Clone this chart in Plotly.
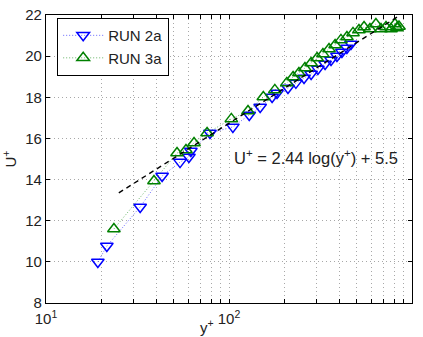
import plotly.graph_objects as go
import math

# RUN 2a
yplus_2a = [19.2, 21.5, 32.7, 43.1, 54.0, 60.4, 61.9, 78.7, 105, 129, 148, 172, 183,
            210, 232, 257, 281, 306, 335, 361, 389, 414, 441, 464]
U_2a = [9.99, 10.77, 12.67, 14.17, 14.85, 15.10, 15.39, 16.26, 16.56, 17.14, 17.53,
        18.01, 18.21, 18.45, 18.70, 18.94, 19.13, 19.38, 19.62, 19.81, 20.01, 20.20,
        20.40, 20.59]

# RUN 3a
yplus_3a = [23.5, 38.9, 52.0, 58.2, 64.4, 75.9, 103, 127, 154, 178, 207, 224, 241,
            260, 281, 303, 326, 352, 380, 409, 441, 476, 513, 547, 589, 635, 677,
            721, 768, 807, 828, 849]
U_3a = [11.60, 13.93, 15.29, 15.44, 15.78, 16.26, 16.95, 17.33, 18.01, 18.36, 18.70,
        18.99, 19.18, 19.42, 19.67, 19.91, 20.10, 20.35, 20.54, 20.79, 20.93, 21.13,
        21.27, 21.42, 21.32, 21.56, 21.32, 21.42, 21.32, 21.56, 21.37, 21.44]

# log-law fit U+ = 2.44 ln(y+) + 5.5, drawn between two end points
fit_x = [25, 830]
kappa_inv = 2.44
B = 5.5
fit_y = [kappa_inv * math.log(v) + B for v in fit_x]

x_ticks = [10, 20, 30, 40, 50, 60, 70, 80, 90, 100, 200, 300, 400, 500, 600, 700, 800, 900, 1000]
x_labels = ["10<sup>1</sup>" if v == 10 else "10<sup>2</sup>" if v == 100 else
            "10<sup>3</sup>" if v == 1000 else "" for v in x_ticks]
y_ticks = [8, 10, 12, 14, 16, 18, 20, 22]

fig = go.Figure()
fig.add_trace(go.Scatter(
    x=yplus_2a, y=U_2a, mode="lines+markers", name="RUN 2a",
    line=dict(color="rgba(0,0,255,0.6)", width=1, dash="1px,2px"),
    marker=dict(symbol="triangle-down-open", size=11, color="blue", line=dict(width=1.5, color="blue")),
))
fig.add_trace(go.Scatter(
    x=yplus_3a, y=U_3a, mode="lines+markers", name="RUN 3a",
    line=dict(color="rgba(0,128,0,0.6)", width=1, dash="1px,2px"),
    marker=dict(symbol="triangle-up-open", size=11, color="#008000", line=dict(width=1.5, color="#008000")),
))
fig.add_trace(go.Scatter(
    x=fit_x, y=fit_y, mode="lines", showlegend=False,
    line=dict(color="black", width=1.4, dash="5px,4px"),
))

axis_common = dict(
    showline=True, linecolor="black", linewidth=1.2, mirror="ticks",
    ticks="inside", ticklen=4, tickcolor="black",
    showgrid=True, gridcolor="#a8a8a8", griddash="1px,3px", gridwidth=1,
    zeroline=False, tickfont=dict(size=15, color="#222"), automargin=False,
)

fig.update_xaxes(type="log", range=[1, 3], tickvals=x_ticks, ticktext=x_labels,
                 ticklabelstandoff=2, **axis_common)
fig.update_yaxes(range=[8, 22], tickvals=y_ticks,
                 title=dict(text="U<sup>+</sup>", font=dict(size=15, color="#222"), standoff=8),
                 **axis_common)

# x-axis title (placed left of the 10^2 label as in the original)
fig.add_annotation(text="y<sup>+</sup>", xref="paper", yref="paper", x=0.44, y=-0.08,
                   xanchor="center", yanchor="middle", showarrow=False,
                   font=dict(size=15, color="#222"))

fig.add_annotation(text="U<sup>+</sup> = 2.44 log(y<sup>+</sup>) + 5.5",
                   xref="paper", yref="paper", x=0.738, y=0.507, xanchor="center",
                   yanchor="middle", showarrow=False,
                   font=dict(size=16.5, color="#222"))

fig.update_layout(
    width=423, height=337,
    margin=dict(l=46, r=11, t=15, b=34),
    paper_bgcolor="white", plot_bgcolor="white",
    font=dict(family="Liberation Sans, Arial, sans-serif", size=15, color="#222"),
    legend=dict(x=0.03, y=0.99, xanchor="left", yanchor="top",
                bordercolor="black", borderwidth=1.2, bgcolor="white",
                font=dict(size=15), tracegroupgap=0, itemwidth=40),
    showlegend=True,
)

fig.write_html("out.html")
